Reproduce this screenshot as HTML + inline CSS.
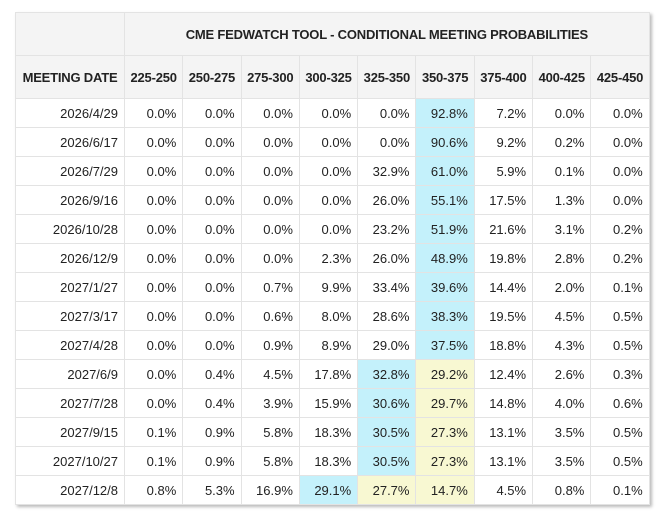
<!DOCTYPE html>
<html><head><meta charset="utf-8"><style>
body{margin:0;background:#fff;width:672px;height:525px;overflow:hidden;font-family:"Liberation Sans",Arial,sans-serif}
table{position:absolute;left:15px;top:12px;border-collapse:collapse;table-layout:fixed;box-shadow:2px 2px 3px #bbb}
td,th{border:1px solid #e3e3e3;font-size:13px;color:#222;padding:0 6px 0 0;text-align:right;height:28px}
th{background:#f4f4f4;font-weight:bold;text-align:center;padding:0;letter-spacing:-0.2px}
.t th{height:42px}
.b{background:#c4f1fb}.y{background:#f8f8d2}
</style></head><body>
<table>
<colgroup><col style="width:109px"><col span="9" style="width:58.3px"></colgroup>
<tr class="t"><th></th><th colspan="9">CME FEDWATCH TOOL - CONDITIONAL MEETING PROBABILITIES</th></tr>
<tr class="t" id="hdr"></tr>
<tbody id="body"></tbody>
</table>
<script>
const ranges=["225-250","250-275","275-300","300-325","325-350","350-375","375-400","400-425","425-450"];
const dates=["2026/4/29","2026/6/17","2026/7/29","2026/9/16","2026/10/28","2026/12/9","2027/1/27","2027/3/17","2027/4/28","2027/6/9","2027/7/28","2027/9/15","2027/10/27","2027/12/8"];
const probs=[
[0,0,0,0,0,92.8,7.2,0,0],
[0,0,0,0,0,90.6,9.2,0.2,0],
[0,0,0,0,32.9,61.0,5.9,0.1,0],
[0,0,0,0,26.0,55.1,17.5,1.3,0],
[0,0,0,0,23.2,51.9,21.6,3.1,0.2],
[0,0,0,2.3,26.0,48.9,19.8,2.8,0.2],
[0,0,0.7,9.9,33.4,39.6,14.4,2.0,0.1],
[0,0,0.6,8.0,28.6,38.3,19.5,4.5,0.5],
[0,0,0.9,8.9,29.0,37.5,18.8,4.3,0.5],
[0,0.4,4.5,17.8,32.8,29.2,12.4,2.6,0.3],
[0,0.4,3.9,15.9,30.6,29.7,14.8,4.0,0.6],
[0.1,0.9,5.8,18.3,30.5,27.3,13.1,3.5,0.5],
[0.1,0.9,5.8,18.3,30.5,27.3,13.1,3.5,0.5],
[0.8,5.3,16.9,29.1,27.7,14.7,4.5,0.8,0.1]];
const blueCol=[5,5,5,5,5,5,5,5,5,4,4,4,4,3];
const yellowCols=[[],[],[],[],[],[],[],[],[],[5],[5],[5],[5],[4,5]];
const hdr=document.getElementById('hdr');
const h0=document.createElement('th');h0.textContent='MEETING DATE';


hdr.appendChild(h0);
ranges.forEach(r=>{const th=document.createElement('th');th.textContent=r;


hdr.appendChild(th);});
const body=document.getElementById('body');
dates.forEach((d,i)=>{const tr=document.createElement('tr');


const td=document.createElement('td');td.textContent=d;


tr.appendChild(td);
probs[i].forEach((v,j)=>{const c=document.createElement('td');c.textContent=v.toFixed(1)+'%';


if(blueCol[i]===j)c.className='b';else if(yellowCols[i].includes(j))c.className='y';
tr.appendChild(c);});
body.appendChild(tr);});
</script>
</body></html>
